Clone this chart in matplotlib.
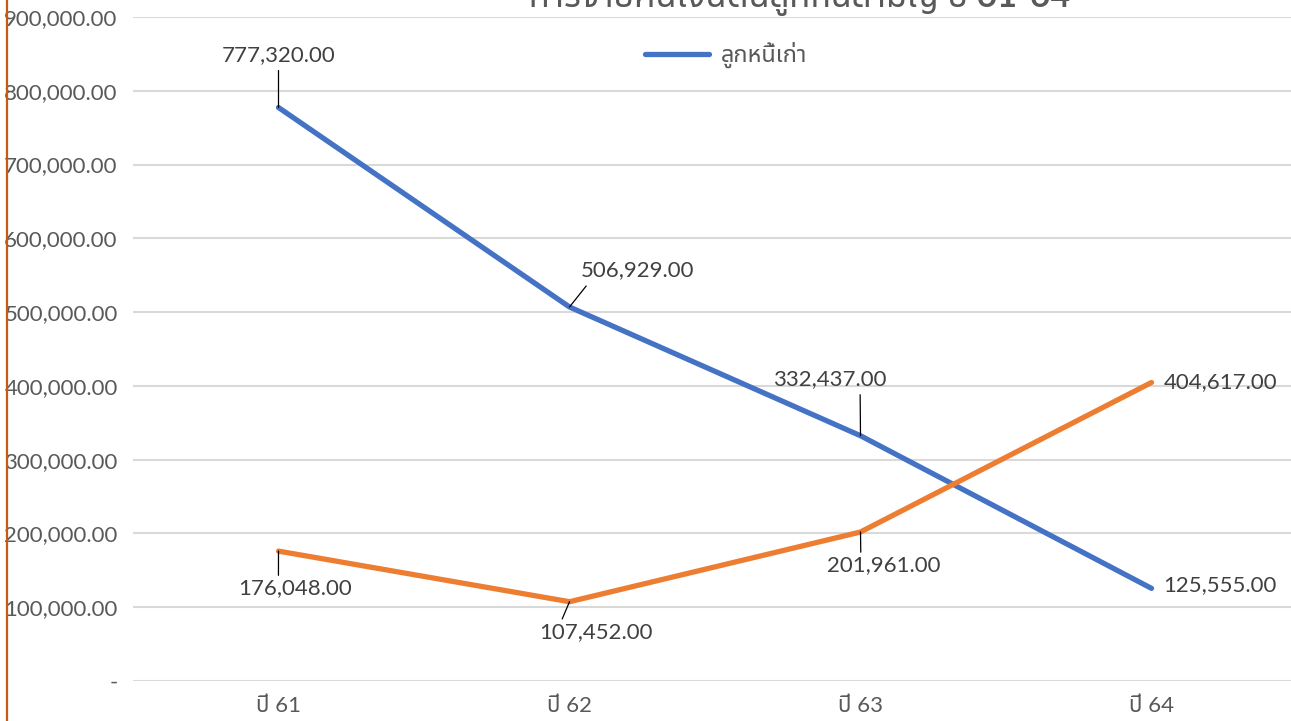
import matplotlib
matplotlib.use("Agg")
import matplotlib.pyplot as plt
from matplotlib.lines import Line2D
from matplotlib.ticker import FuncFormatter

# ข้อมูล
categories = ["ปี 61", "ปี 62", "ปี 63", "ปี 64"]
old_debtors = [777320, 506929, 332437, 125555]
new_debtors = [176048, 107452, 201961, 404617]
series_names = ["ลูกหนี้เก่า", "ลูกหนี้ใหม่"]
chart_title = "การจ่ายคืนเงินต้นลูกหนี้สามัญ ปี 61-64"

fonts = ["Lato", "Noto Sans Thai", "Loma", "Garuda", "Tlwg Typo", "DejaVu Sans"]
plt.rcParams["font.family"] = fonts

blue = "#4472C4"
orange = "#ED7D31"
grey_txt = "#595959"
dark_txt = "#404040"
fs = 16

fig = plt.figure(figsize=(12.91, 7.21), dpi=100)
ax = fig.add_axes([133 / 1291, 40 / 721, 1164 / 1291, 664 / 721])

x = list(range(len(categories)))
ax.plot(x, old_debtors, color=blue, lw=3.8, solid_capstyle="round", solid_joinstyle="round", label=series_names[0])
ax.plot(x, new_debtors, color=orange, lw=3.8, solid_capstyle="round", solid_joinstyle="round", label="_" + series_names[1])

ax.set_xlim(-0.5, 3.5)
ax.set_ylim(0, 900000)
ax.set_yticks(range(0, 900001, 100000))
ax.yaxis.set_major_formatter(FuncFormatter(lambda v, p: "-" if v == 0 else f"{v:,.2f}"))
ax.set_xticks(x)
ax.set_xticklabels(categories)
ax.tick_params(axis="both", length=0, labelsize=fs, labelcolor=grey_txt)
ax.tick_params(axis="y", pad=11)
ax.tick_params(axis="x", pad=11)
for s in ax.spines.values():
    s.set_visible(False)
ax.grid(axis="y", color="#D9D9D9", lw=1.5)
ax.set_axisbelow(True)

# ป้ายข้อมูล (offset เป็นพิกเซล, เส้นนำ)
def label(i, val, dx, dy, ha, lead):
    kw = dict(textcoords="offset pixels", fontsize=fs, color=dark_txt, ha=ha, va="center")
    if lead:
        kw["arrowprops"] = dict(arrowstyle="-", color="black", lw=0.9, shrinkA=0, shrinkB=0,
                                relpos=lead)
    ax.annotate(f"{val:,.2f}", (i, val), xytext=(dx, dy), **kw)

label(0, old_debtors[0], 0, 52, "center", (0.5, -0.25))
label(1, old_debtors[1], 11, 37, "left", (0.05, -0.3))
label(2, old_debtors[2], -31, 57, "center", (0.77, -0.3))
label(3, old_debtors[3], 12, 3, "left", None)
label(0, new_debtors[0], 17, -37, "center", (0.35, 1.05))
label(1, new_debtors[1], 26, -30, "center", (0.2, 1.05))
label(2, new_debtors[2], 23, -33, "center", (0.3, 1.05))
label(3, new_debtors[3], 12, 0, "left", None)

leg = fig.legend(handles=[Line2D([], [], color=blue, lw=3.8, solid_capstyle="round")],
                 labels=[series_names[0]], loc="center", bbox_to_anchor=(726 / 1291, 1 - 55 / 721),
                 frameon=False, fontsize=17, handlelength=2.7, handletextpad=0.5)
for t in leg.get_texts():
    t.set_color(grey_txt)

# ชื่อกราฟถูกตัดที่ขอบบนเหมือนต้นฉบับ
fig.text(800 / 1291, 1 - 7 / 721, chart_title, ha="center", va="baseline",
         fontsize=25, fontweight="bold", color=grey_txt)

fig.add_artist(Line2D([7 / 1291, 7 / 1291], [0, 1], color="#C55A11", lw=1.6))

fig.savefig("out.png", dpi=100)
